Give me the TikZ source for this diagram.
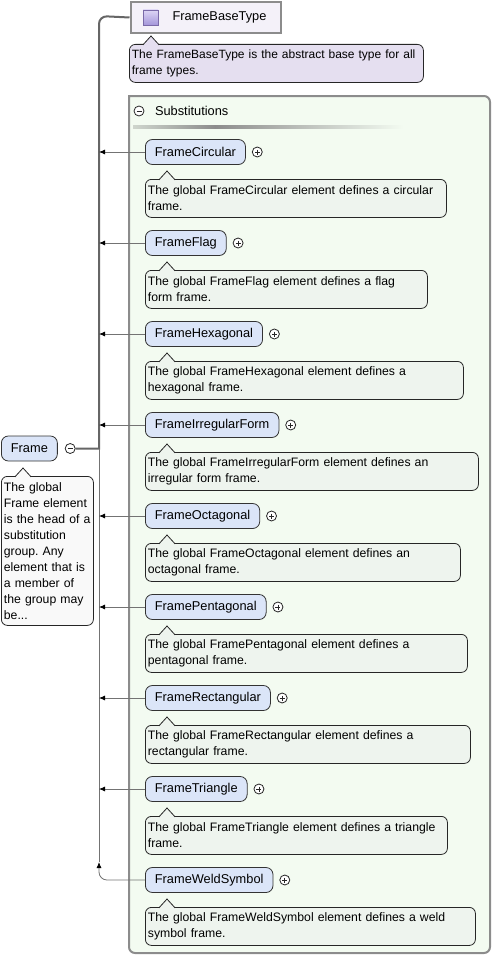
\documentclass[tikz,border=0pt]{standalone}
\usepackage{fontspec}
\setmainfont{Liberation Sans}
\usepackage{xcolor}
\usetikzlibrary{positioning}
\usetikzlibrary{arrows,arrows.meta}

\definecolor{substfill}{HTML}{F3FBF1}
\definecolor{notefill}{HTML}{EEF4EE}
\definecolor{itemfill}{HTML}{DBE5F8}
\definecolor{basefill}{HTML}{F4F1F9}
\definecolor{basenote}{HTML}{E5DFF0}
\definecolor{headnote}{HTML}{F9F9F9}
\definecolor{frameline}{HTML}{8C8C8C}
\definecolor{iconlight}{HTML}{DDD6F5}
\definecolor{icondark}{HTML}{A496DA}
\definecolor{iconline}{HTML}{7A6AA8}

\newcommand{\notetip}[2]{\draw[draw=black!85,line width=0.8pt,fill=#2] ([shift={(14pt,-0.8pt)}]#1.north west) -- ++(8pt,8.8pt) -- ++(8pt,-8.8pt);}

\begin{document}
\frenchspacing
\begin{tikzpicture}[x=1pt,y=1pt,
  elem/.style={draw=black!80,fill=itemfill,rounded corners=7pt,anchor=west,minimum height=25pt,inner xsep=9.5pt,line width=0.8pt,font=\fontsize{12.8}{15}\selectfont},
  note/.style={draw=black!85,fill=notefill,rounded corners=6pt,anchor=north west,minimum height=38pt,inner xsep=2.5pt,inner ysep=2pt,line width=0.8pt,text width=#1,align=left,font=\fontsize{12.25}{16}\selectfont},
  btn/.style={circle,draw=black!85,fill=white,minimum size=10pt,inner sep=0pt,line width=0.8pt},
  plusbtn/.style={btn,path picture={\draw[line width=0.8pt] ([xshift=2.5pt]path picture bounding box.west) -- ([xshift=-2.5pt]path picture bounding box.east) ([yshift=-2.5pt]path picture bounding box.north) -- ([yshift=2.5pt]path picture bounding box.south);}},
  minusbtn/.style={btn,path picture={\draw[line width=0.8pt] ([xshift=2.5pt]path picture bounding box.west) -- ([xshift=-2.5pt]path picture bounding box.east);}},
  link/.style={draw=black!55,line width=0.8pt,-{Latex[length=6pt,width=5pt,color=black]}},
  bus/.style={draw=black!60,line width=2pt}]
  \useasboundingbox (0,0) rectangle (494,-958);

  % substitutions box
  \draw[draw=frameline,fill=substfill,line width=2pt] (129,-96) [rounded corners=6pt] -| (490,-953) -- (129,-953) [sharp corners] -- cycle;
  \shade[left color=substfill!85!black,right color=black!45] (133,-125.5) rectangle (215,-128.5);
  \shade[left color=black!45,right color=substfill] (215,-125.5) rectangle (403,-128.5);
  \node[minusbtn] (substbtn) at (139,-111) {};
  \node[anchor=west,font=\fontsize{12.8}{15}\selectfont] (substlabel) at (151.5,-111) {Substitutions};

  % base type
  \node[draw=frameline,fill=basefill,line width=2pt,anchor=north west,minimum height=31pt,text width=126pt,inner xsep=12pt,align=left,font=\fontsize{12.8}{15}\selectfont] (base) at (129.5,-1) {\hspace*{30pt}FrameBaseType};
  \node[draw=iconline,minimum size=15pt,inner sep=0pt,top color=iconlight,bottom color=icondark] (baseicon) at ([xshift=21pt]base.west) {};
  \node[note=289pt,fill=basenote,font=\fontsize{12}{16}\selectfont] (basenote) at (129,-44) {The FrameBaseType is the abstract base type for all\\frame types.};
  \notetip{basenote}{basenote}

  % head element
  \node[elem] (frame) at (1,-448.5) {Frame};
  \node[minusbtn,right=7pt of frame] (framebtn) {};
  \node[note=87pt,fill=headnote,minimum height=149pt] (framenote) at (1,-476) {The global\\Frame element\\is the head of a\\substitution\\group. Any\\element that is\\a member of\\the group may\\be...};
  \notetip{framenote}{headnote}

  % members
  \node[elem] (circular) at (145,-152) {FrameCircular};
  \node[plusbtn,right=6pt of circular] (circularbtn) {};
  \node[note=296pt] (circularnote) at (145,-179) {The global FrameCircular element defines a circular\\frame.};
  \notetip{circularnote}{notefill}

  \node[elem] (flag) at (145,-243) {FrameFlag};
  \node[plusbtn,right=6pt of flag] (flagbtn) {};
  \node[note=277pt] (flagnote) at (145,-270) {The global FrameFlag element defines a flag\\form frame.};
  \notetip{flagnote}{notefill}

  \node[elem] (hexagonal) at (145,-334) {FrameHexagonal};
  \node[plusbtn,right=6pt of hexagonal] (hexagonalbtn) {};
  \node[note=313pt] (hexagonalnote) at (145,-361) {The global FrameHexagonal element defines a\\hexagonal frame.};
  \notetip{hexagonalnote}{notefill}

  \node[elem] (irregular) at (145,-425) {FrameIrregularForm};
  \node[plusbtn,right=6pt of irregular] (irregularbtn) {};
  \node[note=328pt] (irregularnote) at (145,-452) {The global FrameIrregularForm element defines an\\irregular form frame.};
  \notetip{irregularnote}{notefill}

  \node[elem] (octagonal) at (145,-516) {FrameOctagonal};
  \node[plusbtn,right=6pt of octagonal] (octagonalbtn) {};
  \node[note=310pt] (octagonalnote) at (145,-543) {The global FrameOctagonal element defines an\\octagonal frame.};
  \notetip{octagonalnote}{notefill}

  \node[elem] (pentagonal) at (145,-607) {FramePentagonal};
  \node[plusbtn,right=6pt of pentagonal] (pentagonalbtn) {};
  \node[note=317pt] (pentagonalnote) at (145,-634) {The global FramePentagonal element defines a\\pentagonal frame.};
  \notetip{pentagonalnote}{notefill}

  \node[elem] (rectangular) at (145,-698) {FrameRectangular};
  \node[plusbtn,right=6pt of rectangular] (rectangularbtn) {};
  \node[note=320pt] (rectangularnote) at (145,-725) {The global FrameRectangular element defines a\\rectangular frame.};
  \notetip{rectangularnote}{notefill}

  \node[elem] (triangle) at (145,-789) {FrameTriangle};
  \node[plusbtn,right=6pt of triangle] (trianglebtn) {};
  \node[note=297pt] (trianglenote) at (145,-816) {The global FrameTriangle element defines a triangle\\frame.};
  \notetip{trianglenote}{notefill}

  \node[elem] (weld) at (145,-880) {FrameWeldSymbol};
  \node[plusbtn,right=6pt of weld] (weldbtn) {};
  \node[note=325pt] (weldnote) at (145,-907) {The global FrameWeldSymbol element defines a weld\\symbol frame.};
  \notetip{weldnote}{notefill}

  % connectors
  \coordinate (spinetop) at (99,-16);
  \coordinate (spinebot) at (99,-862);
  \draw[bus] (framebtn.east) -- (framebtn.east -| spinetop) [rounded corners=8pt] -- (spinetop) -- (base.west);
  \draw[draw=black!55,line width=0.8pt] (framebtn.east -| spinetop) -- (spinebot);
  \draw (circular.west) edge[link] (circular.west -| spinetop);
  \draw (flag.west) edge[link] (flag.west -| spinetop);
  \draw (hexagonal.west) edge[link] (hexagonal.west -| spinetop);
  \draw (irregular.west) edge[link] (irregular.west -| spinetop);
  \draw (octagonal.west) edge[link] (octagonal.west -| spinetop);
  \draw (pentagonal.west) edge[link] (pentagonal.west -| spinetop);
  \draw (rectangular.west) edge[link] (rectangular.west -| spinetop);
  \draw (triangle.west) edge[link] (triangle.west -| spinetop);
  \draw[link,rounded corners=8pt] (weld.west) -| (spinebot);
\end{tikzpicture}
\end{document}
